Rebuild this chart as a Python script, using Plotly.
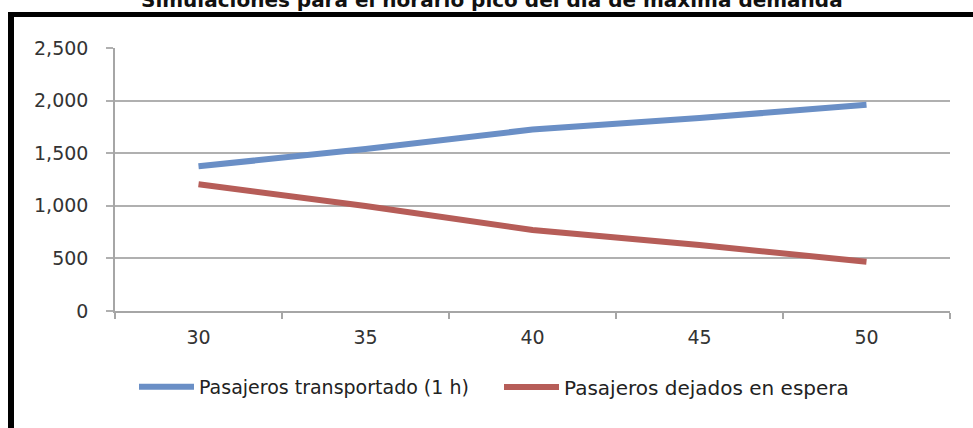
import plotly.graph_objects as go

categories = ["30", "35", "40", "45", "50"]
transportados = [1375, 1540, 1725, 1835, 1960]
en_espera = [1205, 998, 770, 627, 468]
y_ticks = [0, 500, 1000, 1500, 2000, 2500]
names = ["Pasajeros transportado (1 h)", "Pasajeros dejados en espera"]
title = "Simulaciones para el horario pico del día de máxima demanda"

W, H = 973, 428
L, R, T, B = 115, 23, 48, 117
pw, ph = W - L - R, H - T - B

def px(x):
    return (x - L) / pw

def py(y):
    return (H - B - y) / ph

fig = go.Figure()
fig.add_trace(go.Scatter(x=categories, y=transportados, mode="lines", name=names[0],
                         line=dict(color="#6a8fc6", width=6), legend="legend"))
fig.add_trace(go.Scatter(x=categories, y=en_espera, mode="lines", name=names[1],
                         line=dict(color="#b65d58", width=6), legend="legend2"))

font = "DejaVu Sans, sans-serif"
leg_common = dict(orientation="h", xanchor="left", yanchor="middle",
                  itemwidth=55, bgcolor="rgba(0,0,0,0)")

fig.update_layout(
    width=W, height=H,
    margin=dict(l=L, r=R, t=T, b=B),
    paper_bgcolor="white", plot_bgcolor="white",
    font=dict(family=font, size=19, color="#333333"),
    showlegend=True,
    legend=dict(x=px(134), y=py(387), font=dict(size=19, color="#222222"), **leg_common),
    legend2=dict(x=px(499), y=py(387), font=dict(size=20, color="#222222"), **leg_common),
    xaxis=dict(type="category", range=[-0.5, 4.5], tickson="boundaries",
               ticks="outside", ticklen=6, tickcolor="#a6a6a6", tickwidth=1.5,
               showline=True, linecolor="#a6a6a6", linewidth=1.5,
               showgrid=False, ticklabelstandoff=8, fixedrange=True),
    yaxis=dict(range=[0, 2500], tickvals=y_ticks, tickformat=",",
               ticks="outside", ticklen=7, tickcolor="#b0b0b0", tickwidth=1.5,
               showline=True, linecolor="#a6a6a6", linewidth=1.5,
               showgrid=True, gridcolor="#b0b0b0", gridwidth=1.5,
               zeroline=False, ticklabelstandoff=14, fixedrange=True),
    shapes=[
        dict(type="rect", xref="paper", yref="paper", x0=px(8), x1=px(14),
             y0=py(440), y1=py(12), fillcolor="black", line=dict(width=0), layer="above"),
        dict(type="rect", xref="paper", yref="paper", x0=px(8), x1=px(985),
             y0=py(17), y1=py(12), fillcolor="black", line=dict(width=0), layer="above"),
    ],
    annotations=[
        dict(text="<b>" + title + "</b>", xref="paper", yref="paper",
             x=px(492), y=py(0), xanchor="center", yanchor="middle",
             showarrow=False, font=dict(size=20, color="#111111", family=font)),
    ],
)

fig.write_html("out.html", config={"displayModeBar": False},
               post_script="document.body.style.margin='0';document.body.style.overflow='hidden';")
